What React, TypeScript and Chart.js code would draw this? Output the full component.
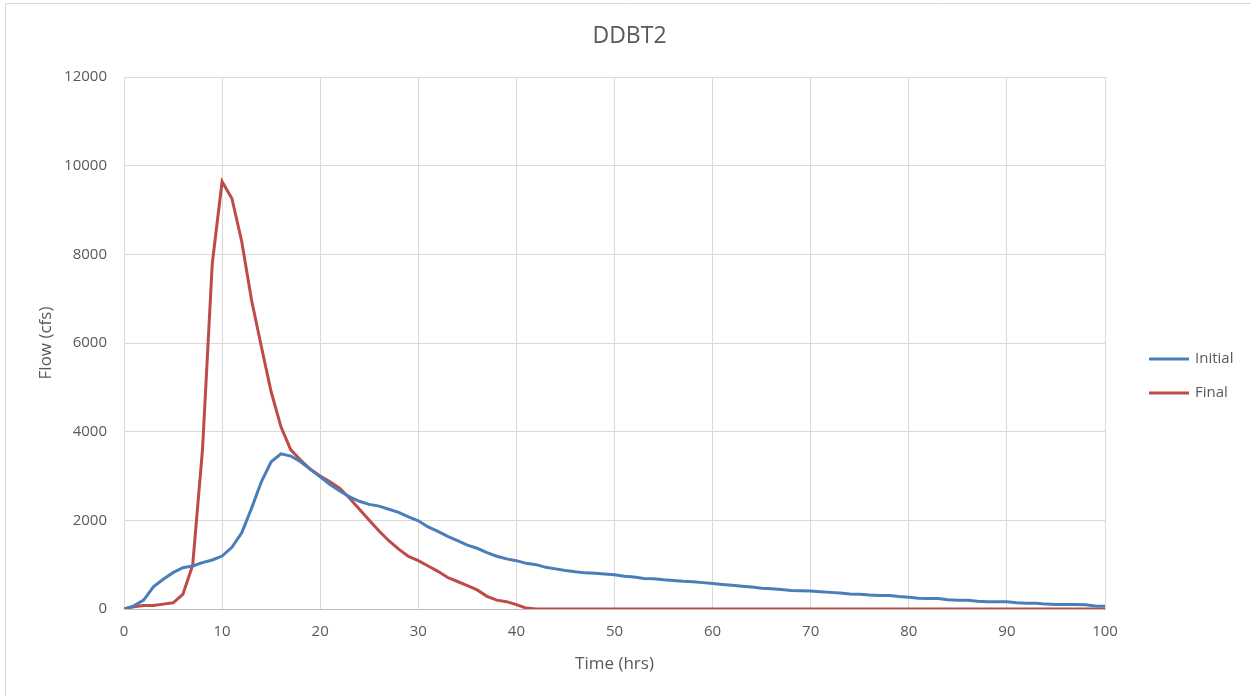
import React, { useEffect, useRef } from "react";
import { Chart, registerables } from "chart.js";

Chart.register(...registerables);

const chartTitle = "DDBT2";
const xAxisTitle = "Time (hrs)";
const yAxisTitle = "Flow (cfs)";
const seriesNames = ["Initial", "Final"];
const seriesColors = ["#4A7EBB", "#BE4B48"];

const hours = [
  0, 1, 2, 3, 4, 5, 6, 7, 8, 9, 10, 11, 12, 13, 14, 15, 16, 17, 18, 19, 20,
  21, 22, 23, 24, 25, 26, 27, 28, 29, 30, 31, 32, 33, 34, 35, 36, 37, 38, 39, 40,
  41, 42, 43, 44, 45, 46, 47, 48, 49, 50, 51, 52, 53, 54, 55, 56, 57, 58, 59, 60,
  61, 62, 63, 64, 65, 66, 67, 68, 69, 70, 71, 72, 73, 74, 75, 76, 77, 78, 79, 80,
  81, 82, 83, 84, 85, 86, 87, 88, 89, 90, 91, 92, 93, 94, 95, 96, 97, 98, 99, 100,
];

const initialFlow = [
  0, 70, 200, 500, 670, 820, 930, 970, 1045, 1105, 1195,
  1390, 1720, 2270, 2870, 3320, 3500, 3450, 3320, 3150, 2980,
  2810, 2660, 2530, 2430, 2360, 2320, 2250, 2180, 2080, 1990,
  1850, 1750, 1640, 1540, 1440, 1370, 1270, 1190, 1130, 1090,
  1030, 1000, 940, 905, 870, 840, 815, 805, 790, 770,
  740, 720, 690, 680, 660, 645, 625, 615, 595, 575,
  555, 535, 515, 495, 470, 455, 440, 415, 410, 405,
  390, 375, 360, 340, 335, 315, 305, 305, 280, 265,
  245, 235, 235, 210, 195, 195, 175, 165, 165, 165,
  140, 130, 130, 110, 100, 100, 100, 95, 70, 60,
];

const finalFlow = [
  0, 50, 80, 80, 110, 140, 330, 990, 3590, 7800, 9640,
  9260, 8290, 6970, 5920, 4900, 4110, 3590, 3360, 3150, 3000,
  2870, 2720, 2500, 2250, 2000, 1760, 1540, 1350, 1185, 1090,
  970, 850, 710, 620, 525, 430, 285, 200, 165, 100,
  20, 0, 0, 0, 0, 0, 0, 0, 0, 0,
  0, 0, 0, 0, 0, 0, 0, 0, 0, 0,
  0, 0, 0, 0, 0, 0, 0, 0, 0, 0,
  0, 0, 0, 0, 0, 0, 0, 0, 0, 0,
  0, 0, 0, 0, 0, 0, 0, 0, 0, 0,
  0, 0, 0, 0, 0, 0, 0, 0, 0, 0,
];

const xMin = 0;
const xMax = 100;
const xStep = 10;
const yMin = 0;
const yMax = 12000;
const yStep = 2000;

const FONT = "'Open Sans', 'Liberation Sans', sans-serif";
const TEXT = "#595959";
const GRID = "#D9D9D9";

const decorPlugin = {
  id: "decor",
  beforeDraw(chart: any) {
    const { ctx } = chart;
    ctx.save();
    ctx.strokeStyle = GRID;
    ctx.lineWidth = 1;
    ctx.beginPath();
    ctx.moveTo(5.5, chart.height + 10);
    ctx.lineTo(5.5, 3.5);
    ctx.lineTo(chart.width + 10, 3.5);
    ctx.stroke();
    ctx.restore();
  },
  afterDraw(chart: any) {
    const { ctx, chartArea } = chart;
    ctx.save();
    // chart title, centred on the whole chart
    ctx.font = `23px ${FONT}`;
    ctx.fillStyle = TEXT;
    ctx.textAlign = "center";
    ctx.textBaseline = "middle";
    ctx.fillText(chartTitle, chart.width / 2 + 4, 36);

    // legend
    const midY = (chartArea.top + chartArea.bottom) / 2 + 33;
    const x0 = chartArea.right + 44;
    const datasets = chart.data.datasets;
    ctx.font = `15px ${FONT}`;
    ctx.textBaseline = "middle";
    ctx.textAlign = "left";
    datasets.forEach((ds: any, i: number) => {
      const y = midY + (i - (datasets.length - 1) / 2) * 34;
      ctx.strokeStyle = ds.borderColor;
      ctx.lineWidth = 3;
      ctx.beginPath();
      ctx.moveTo(x0, y);
      ctx.lineTo(x0 + 40, y);
      ctx.stroke();
      ctx.fillStyle = TEXT;
      ctx.fillText(ds.label, x0 + 46, y);
    });
    ctx.restore();
  },
};

export default function App() {
  const canvasRef = useRef<HTMLCanvasElement | null>(null);

  useEffect(() => {
    document.body.style.margin = "0";
    const canvas = canvasRef.current;
    if (!canvas) return;
    const makePoints = (vals: number[]) => hours.map((h, i) => ({ x: h, y: vals[i] }));
    const chart = new Chart(canvas, {
      type: "line",
      data: {
        datasets: [
          {
            label: seriesNames[0],
            data: makePoints(initialFlow),
            borderColor: seriesColors[0],
            backgroundColor: seriesColors[0],
            borderWidth: 3,
            pointRadius: 0,
            tension: 0,
            fill: false,
          },
          {
            label: seriesNames[1],
            data: makePoints(finalFlow),
            borderColor: seriesColors[1],
            backgroundColor: seriesColors[1],
            borderWidth: 3,
            pointRadius: 0,
            tension: 0,
            fill: false,
          },
        ],
      },
      options: {
        responsive: false,
        animation: false,
        layout: { padding: { left: 0, right: 146, top: 77, bottom: 0 } },
        plugins: {
          legend: { display: false },
          tooltip: { enabled: false },
          title: { display: false },
        },
        scales: {
          x: {
            type: "linear",
            min: xMin,
            max: xMax,
            ticks: {
              stepSize: xStep,
              color: TEXT,
              font: { family: FONT, size: 15 },
              padding: 14,
              maxRotation: 0,
              callback: (v: any) => String(v),
            },
            grid: { color: GRID, lineWidth: 1, drawTicks: false },
            border: { color: "#BFBFBF", width: 1 },
            title: {
              display: true,
              text: xAxisTitle,
              color: TEXT,
              font: { family: FONT, size: 17 },
              padding: { top: 0, bottom: 22 },
            },
            afterFit(scale: any) {
              scale.height = 87;
            },
          },
          y: {
            min: yMin,
            max: yMax,
            ticks: {
              stepSize: yStep,
              color: TEXT,
              font: { family: FONT, size: 15 },
              padding: 17,
              callback: (v: any) => String(v),
            },
            grid: { color: GRID, lineWidth: 1, drawTicks: false },
            border: { color: GRID, width: 1 },
            title: {
              display: true,
              text: yAxisTitle,
              color: TEXT,
              font: { family: FONT, size: 17 },
              padding: { top: 36, bottom: 0 },
            },
            afterFit(scale: any) {
              scale.width = 124;
            },
          },
        },
      },
      plugins: [decorPlugin],
    });
    return () => chart.destroy();
  }, []);

  return <canvas ref={canvasRef} width={1251} height={696} style={{ display: "block" }} />;
}
